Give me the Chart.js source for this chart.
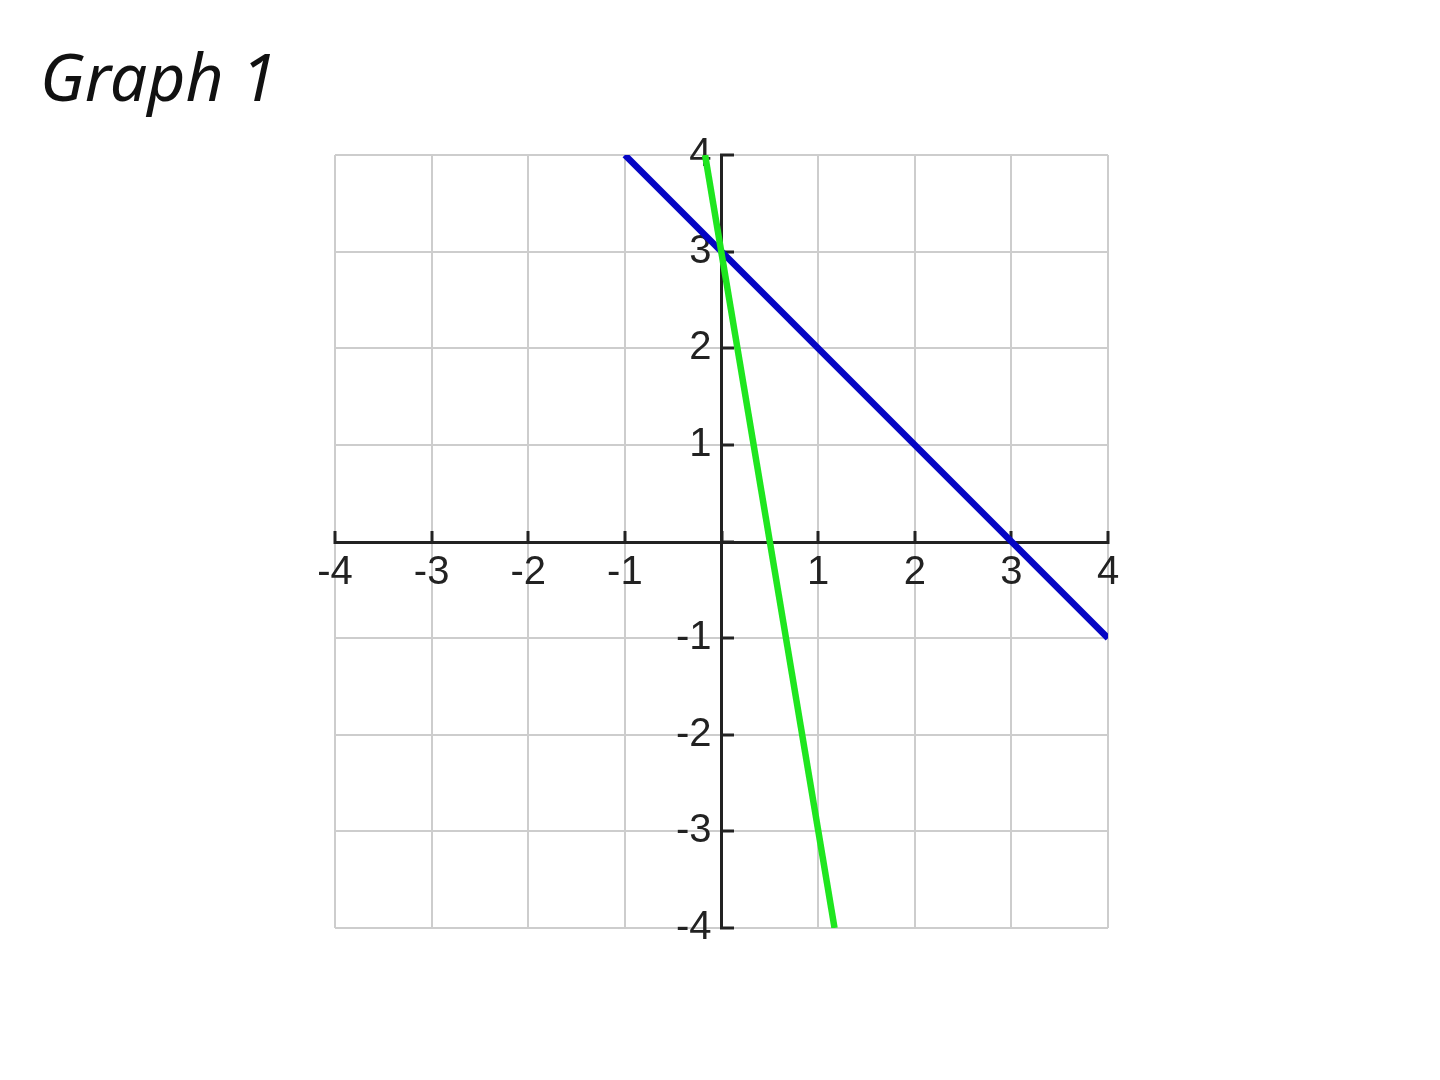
<!DOCTYPE html>
<html>
<head>
<meta charset="utf-8">
<script src="https://cdn.jsdelivr.net/npm/chart.js@4/dist/chart.umd.min.js"></script>
<style>
    body { margin: 0; background: #fff; }
    #wrap { position: relative; width: 1440px; height: 1080px; }
    #title {
        position: absolute; left: 40px; top: 30px;
        font-family: "Noto Sans", sans-serif; font-style: italic;
        font-size: 66px; color: #111;
    }
    canvas { position: absolute; left: 0; top: 0; }
</style>
</head>
<body>
<div id="wrap">
    <div id="title">Graph 1</div>
    <canvas id="myChart" width="1440" height="1080"></canvas>
</div>
<script>
// line end points
var blueX = [-1, 4];
var blueY = [4, -1];
var greenX = [-0.17, 1.17];
var greenY = [4, -4];

var tickValues = [-4, -3, -2, -1, 0, 1, 2, 3, 4];
var xTickLabels = ['-4', '-3', '-2', '-1', '', '1', '2', '3', '4'];
var yTickLabels = ['-4', '-3', '-2', '-1', '', '1', '2', '3', '4'];

function toPoints(xs, ys) {
    var pts = [];
    for (var i = 0; i < xs.length; i++) {
        pts.push({x: xs[i], y: ys[i]});
    }
    return pts;
}

function labelFor(labels) {
    return function(value) {
        var idx = tickValues.indexOf(value);
        return idx < 0 ? '' : labels[idx];
    };
}

var tickFont = {family: '"Liberation Sans", Arial, sans-serif', size: 40};

var chart = new Chart(document.getElementById('myChart'), {
    type: 'scatter',
    data: {
        datasets: [{
            label: 'green',
            data: toPoints(greenX, greenY),
            showLine: true,
            borderColor: '#1fe61f',
            borderWidth: 6.5,
            pointRadius: 0
        }, {
            label: 'blue',
            data: toPoints(blueX, blueY),
            showLine: true,
            borderColor: '#0505c4',
            borderWidth: 6.5,
            pointRadius: 0
        }]
    },
    options: {
        responsive: false,
        animation: false,
        events: [],
        layout: {
            padding: {left: 335, right: 332, top: 155, bottom: 152}
        },
        plugins: {
            legend: {display: false},
            tooltip: {enabled: false}
        },
        scales: {
            x: {
                type: 'linear',
                position: 'center',
                min: -4,
                max: 4,
                grid: {
                    color: '#cdcdcd',
                    lineWidth: 2,
                    tickColor: '#222',
                    tickWidth: 3,
                    tickLength: -13
                },
                border: {color: '#222', width: 3},
                ticks: {
                    stepSize: 1,
                    color: '#222',
                    font: tickFont,
                    padding: 20,
                    maxRotation: 0,
                    autoSkip: false,
                    callback: labelFor(xTickLabels)
                }
            },
            y: {
                type: 'linear',
                position: 'center',
                min: -4,
                max: 4,
                grid: {
                    color: '#cdcdcd',
                    lineWidth: 2,
                    tickColor: '#222',
                    tickWidth: 3,
                    tickLength: -14
                },
                border: {color: '#222', width: 3},
                ticks: {
                    stepSize: 1,
                    color: '#222',
                    font: tickFont,
                    padding: 24,
                    autoSkip: false,
                    callback: labelFor(yTickLabels)
                }
            }
        }
    }
});
</script>
</body>
</html>
